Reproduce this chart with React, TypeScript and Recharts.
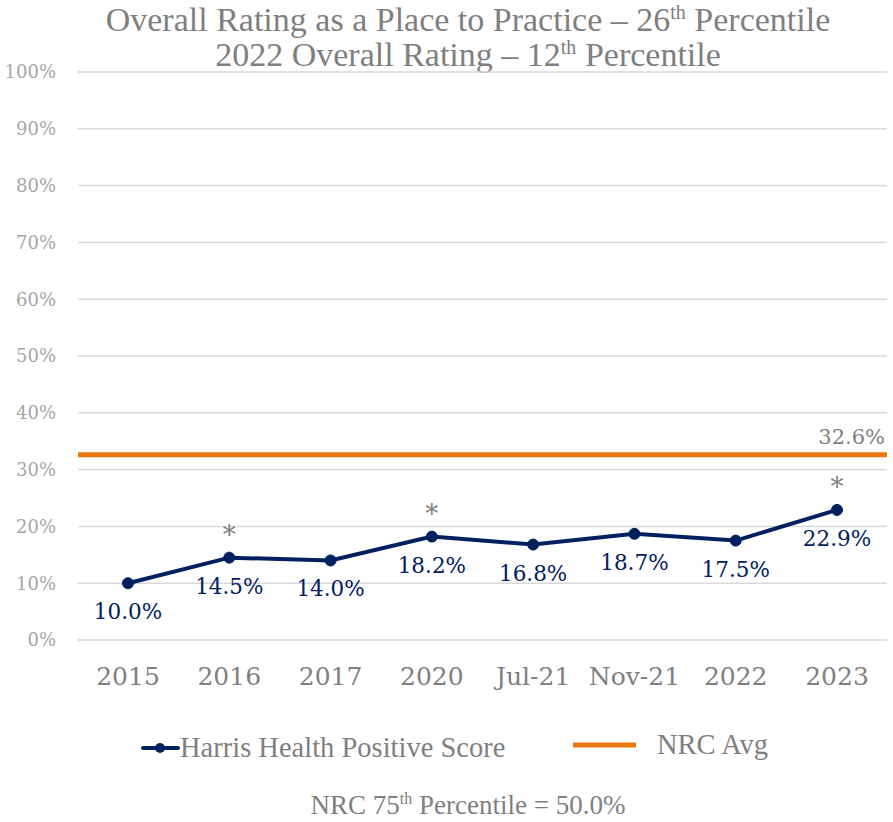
import { LineChart, Line, XAxis, YAxis, CartesianGrid, ReferenceLine, LabelList } from 'recharts'

// Survey periods and scores
const PERIODS = ['2015', '2016', '2017', '2020', 'Jul-21', 'Nov-21', '2022', '2023']
const HARRIS_SCORES = [10.0, 14.5, 14.0, 18.2, 16.8, 18.7, 17.5, 22.9]
const SIGNIFICANT = [false, true, false, true, false, false, false, true]
const NRC_AVG = 32.6
const NRC_75TH = 50.0
const Y_TICKS = [0, 10, 20, 30, 40, 50, 60, 70, 80, 90, 100]

const NAVY = '#002060'
const ORANGE = '#e9790e'
const GRAY = '#7f7f7f'
const LIGHT_GRAY = '#a6a6a6'
const NUM_FONT = '"DejaVu Serif", serif'
const TEXT_FONT = '"Liberation Serif", serif'

const data = PERIODS.map((period, i) => ({
  period,
  score: HARRIS_SCORES[i],
}))

function PointLabel(props: any) {
  const { x, y, value, index } = props
  return (
    <g>
      <text x={x} y={y + 36} textAnchor="middle" fontSize={21.5} fontFamily={NUM_FONT} fill={NAVY}>
        {`${Number(value).toFixed(1)}%`}
      </text>
      {SIGNIFICANT[index] && (
        <text x={x} y={y - 14} textAnchor="middle" fontSize={26} fontFamily={NUM_FONT} fill={GRAY}>
          *
        </text>
      )}
    </g>
  )
}

function AvgLabel(props: any) {
  const { viewBox } = props
  return (
    <text
      x={viewBox.x + viewBox.width - 2}
      y={viewBox.y - 11}
      textAnchor="end"
      fontSize={21}
      fontFamily={NUM_FONT}
      fill={GRAY}
    >
      {`${NRC_AVG.toFixed(1)}%`}
    </text>
  )
}

export default function App() {
  return (
    <div style={{ position: 'relative', width: 893, height: 822, background: '#fff' }}>
      <style>{`body { margin: 0; }`}</style>

      {/* Title */}
      <svg style={{ position: 'absolute', left: 0, top: 0 }} width={893} height={75}>
        <text x={468} y={31} textAnchor="middle" fontSize={34} fontFamily={TEXT_FONT} fill={GRAY}>
          Overall Rating as a Place to Practice – 26
          <tspan fontSize={20} dy={-12}>th</tspan>
          <tspan dy={12}> Percentile</tspan>
        </text>
        <text x={468} y={66} textAnchor="middle" fontSize={34} fontFamily={TEXT_FONT} fill={GRAY}>
          2022 Overall Rating – 12
          <tspan fontSize={20} dy={-12}>th</tspan>
          <tspan dy={12}> Percentile</tspan>
        </text>
      </svg>

      <div style={{ position: 'absolute', left: 0, top: 0 }}>
        <LineChart
          width={893}
          height={700}
          data={data}
          margin={{ top: 72, right: 6, bottom: 0, left: 0 }}
        >
          <CartesianGrid vertical={false} stroke="#d9d9d9" strokeWidth={1.5} />
          <XAxis
            dataKey="period"
            axisLine={false}
            tickLine={false}
            height={60}
            padding={{ left: 50, right: 50 }}
            tickMargin={21}
            tick={{ fontSize: 25, fontFamily: NUM_FONT, fill: GRAY }}
            interval={0}
          />
          <YAxis
            domain={[0, 100]}
            ticks={Y_TICKS}
            width={78}
            axisLine={false}
            tickLine={false}
            tickMargin={16}
            tickFormatter={(v) => `${v}%`}
            tick={{ fontSize: 18, fontFamily: NUM_FONT, fill: LIGHT_GRAY }}
          />
          <ReferenceLine y={NRC_AVG} stroke={ORANGE} strokeWidth={5} label={<AvgLabel />} />
          <Line
            type="linear"
            dataKey="score"
            stroke={NAVY}
            strokeWidth={4}
            dot={{ r: 5.5, fill: NAVY, stroke: NAVY, strokeWidth: 1 }}
            isAnimationActive={false}
          >
            <LabelList dataKey="score" content={<PointLabel />} />
          </Line>
        </LineChart>
      </div>

      {/* Legend and footnote */}
      <svg style={{ position: 'absolute', left: 0, top: 730 }} width={893} height={92}>
        <line x1={143} y1={18} x2={178} y2={18} stroke={NAVY} strokeWidth={4} strokeLinecap="round" />
        <circle cx={160} cy={18} r={5} fill={NAVY} />
        <text x={180} y={27} fontSize={28.5} fontFamily={TEXT_FONT} fill={GRAY}>
          Harris Health Positive Score
        </text>
        <line x1={573} y1={15} x2={636} y2={15} stroke={ORANGE} strokeWidth={5} />
        <text x={657} y={24} fontSize={28.5} fontFamily={TEXT_FONT} fill={GRAY}>
          NRC Avg
        </text>
        <text x={468} y={84} textAnchor="middle" fontSize={27} fontFamily={TEXT_FONT} fill={GRAY}>
          NRC 75
          <tspan fontSize={16} dy={-10}>th</tspan>
          <tspan dy={10}>{` Percentile = ${NRC_75TH.toFixed(1)}%`}</tspan>
        </text>
      </svg>
    </div>
  )
}
